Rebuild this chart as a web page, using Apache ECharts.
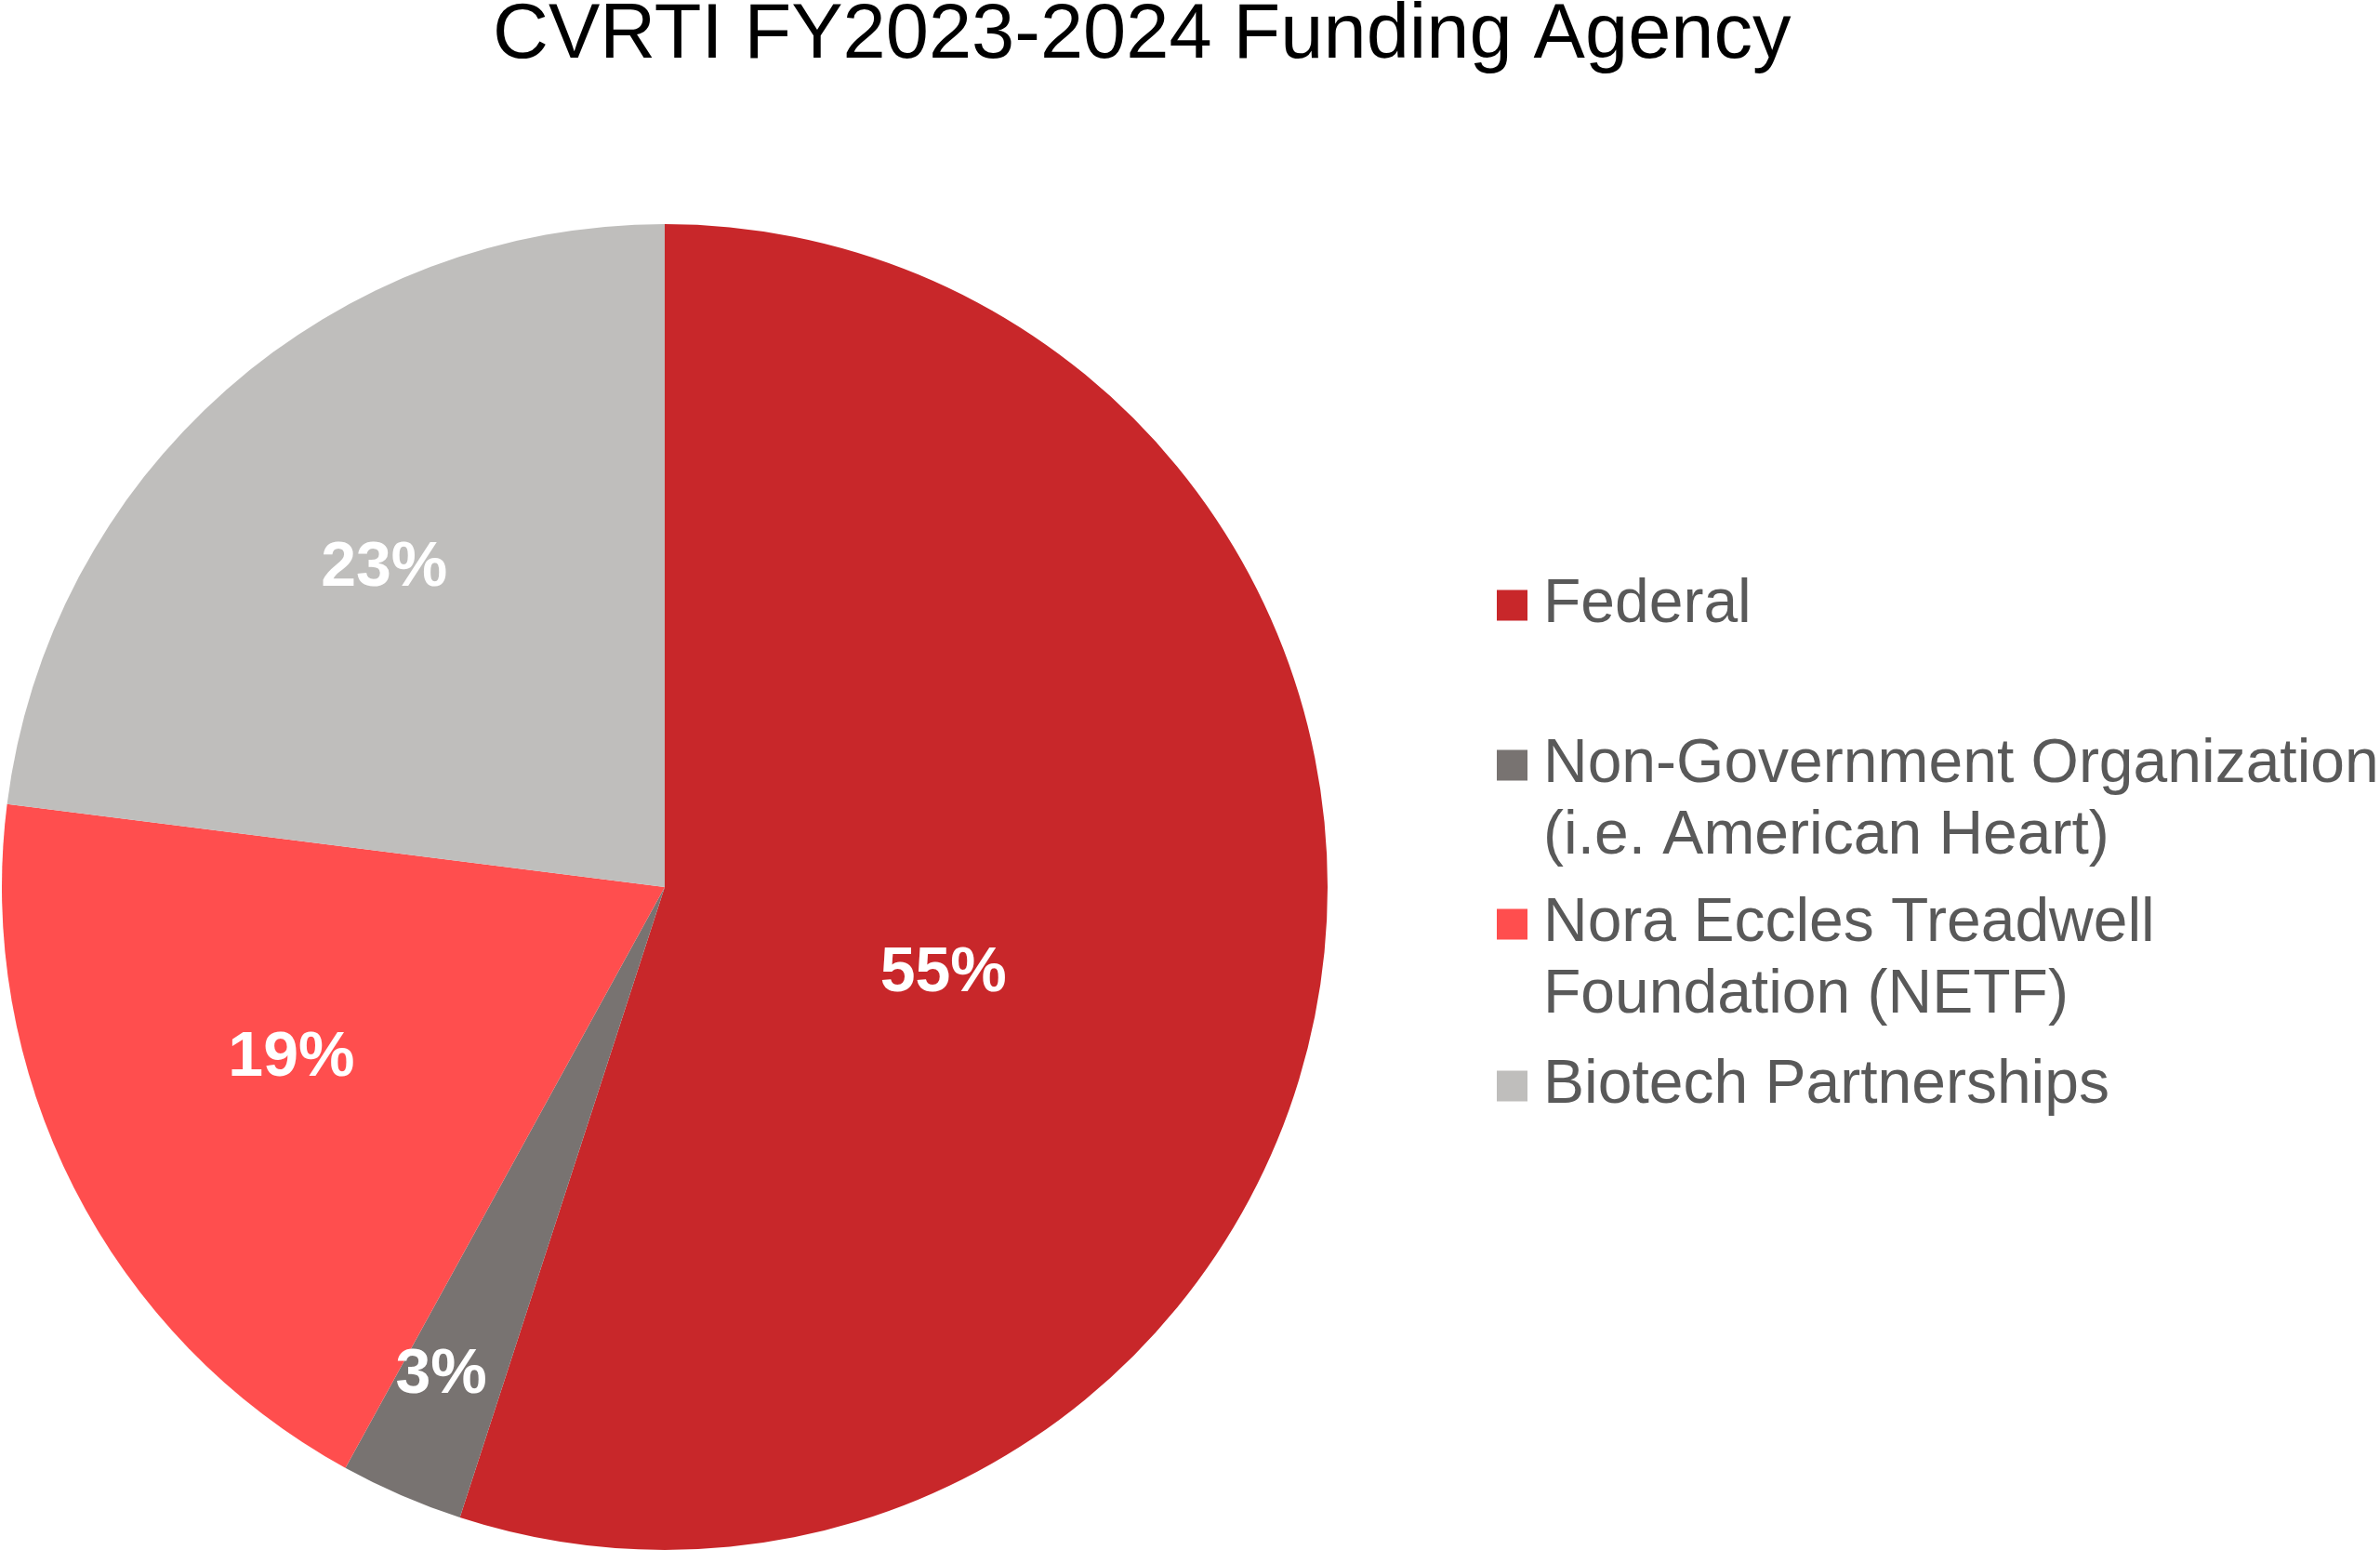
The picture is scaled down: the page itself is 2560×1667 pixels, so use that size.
<!DOCTYPE html>
<html>
<head>
<meta charset="utf-8">
<script src="https://cdn.jsdelivr.net/npm/echarts@6/dist/echarts.min.js"></script>
<style>
html,body{margin:0;padding:0;background:#fff;}
#chart{width:2560px;height:1667px;}
</style>
</head>
<body>
<div id="chart"></div>
<script>
// ---- data ----
const titleText = 'CVRTI FY2023-2024 Funding Agency';
const categories = ['Federal', 'Non-Government Organization\n(i.e. American Heart)', 'Nora Eccles Treadwell\nFoundation (NETF)', 'Biotech Partnerships'];
const values = [55, 3, 19, 23];

// ---- style ----
const colors = ['#C8272A', '#787371', '#FF4E4E', '#BFBEBC'];
const labelRadius = [0.44, 0.81, 0.62, 0.64];   // radial label placement (fraction of radius)
const labelAngleShift = [8.2, 1.2, 2.3, 0];      // degrees, clockwise from slice middle
const CX = 715, CY = 954, R = 713;
const FONT = '"Liberation Sans", Arial, Helvetica, sans-serif';
const legendIconCenters = [651, 823, 994, 1168];
const LH = 77;

const total = values.reduce(function (a, b) { return a + b; }, 0);
const midAngles = [];
(function () {
  let acc = 0;
  values.forEach(function (v) { midAngles.push((acc + v / 2) / total * 360); acc += v; });
})();

const chart = echarts.init(document.getElementById('chart'), null, {renderer: 'canvas'});

const legends = categories.map(function (name, i) {
  const twoLine = name.indexOf('\n') >= 0;
  return {
    orient: 'vertical',
    left: 1610,
    top: twoLine ? legendIconCenters[i] - 1.5 * LH : legendIconCenters[i] - 0.5 * LH,
    padding: 0,
    itemWidth: 33,
    itemHeight: 33,
    icon: 'rect',
    selectedMode: false,
    data: [name],
    formatter: function (n) { return n.indexOf('\n') >= 0 ? '\n' + n : n; },
    textStyle: {
      fontFamily: FONT,
      fontSize: 66,
      lineHeight: LH,
      color: '#595959',
      padding: [0, 0, 0, 12]
    }
  };
});

chart.setOption({
  backgroundColor: '#ffffff',
  animation: false,
  color: colors,
  title: {
    text: titleText,
    left: 530,
    top: -2,
    padding: 0,
    textStyle: {fontFamily: FONT, fontSize: 83, fontWeight: 'normal', color: '#000000'}
  },
  legend: legends,
  series: [{
    type: 'pie',
    center: [CX, CY],
    radius: [0, R],
    startAngle: 90,
    clockwise: true,
    avoidLabelOverlap: false,
    itemStyle: {borderWidth: 0},
    label: {
      show: true,
      position: 'inside',
      formatter: function (p) { return Math.round(p.percent) + '%'; },
      color: '#ffffff',
      fontFamily: FONT,
      fontWeight: 'bold',
      fontSize: 68
    },
    labelLine: {show: false},
    labelLayout: function (p) {
      const i = p.dataIndex;
      const a = (midAngles[i] + labelAngleShift[i]) * Math.PI / 180;
      const tx = CX + labelRadius[i] * R * Math.sin(a);
      const ty = CY - labelRadius[i] * R * Math.cos(a);
      const lx = p.labelRect.x + p.labelRect.width / 2;
      const ly = p.labelRect.y + p.labelRect.height / 2;
      return {dx: tx - lx, dy: ty - ly};
    },
    data: categories.map(function (c, i) { return {name: c, value: values[i]}; })
  }]
});
</script>
</body>
</html>
